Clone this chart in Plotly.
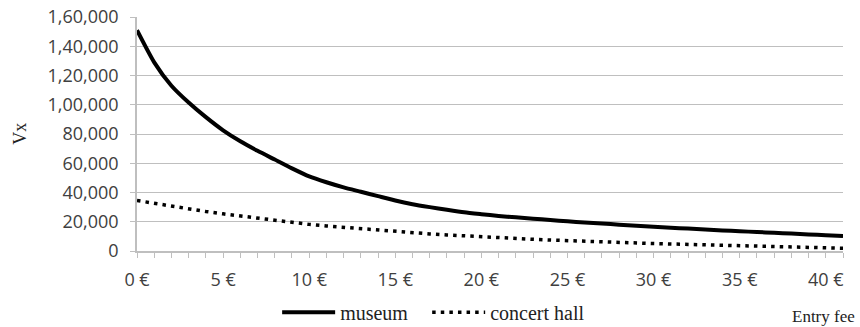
import plotly.graph_objects as go

# ---- data ----
entry_fee = list(range(0, 42))  # euros
museum = [151000, 129000, 113000, 101500, 91500, 82500, 75000, 68500, 62500, 56500,
          51000, 47000, 43500, 40500, 37500, 34500, 32000, 30000, 28200, 26500,
          25200, 24000, 23000, 22100, 21200, 20300, 19500, 18800, 18000, 17200,
          16500, 15900, 15300, 14700, 14100, 13500, 13000, 12400, 11900, 11300,
          10800, 10300]
concert_hall = [34500, 32500, 30500, 28700, 27000, 25400, 23900, 22400, 21000, 19700,
                18200, 17100, 16100, 15100, 14200, 13300, 12500, 11700, 11000, 10300,
                9700, 9100, 8500, 8000, 7500, 7000, 6600, 6200, 5800, 5400,
                5100, 4800, 4500, 4200, 3900, 3600, 3300, 3000, 2700, 2400,
                2100, 1900]
series_names = ["museum", "concert hall"]

x_tick_vals = list(range(0, 42))
x_tick_text = [f"{v} €" if v % 5 == 0 else "" for v in x_tick_vals]
y_tick_vals = [0, 20000, 40000, 60000, 80000, 100000, 120000, 140000, 160000]
y_tick_text = ["0", "20,000", "40,000", "60,000", "80,000",
               "1,00,000", "1,20,000", "1,40,000", "1,60,000"]

fig = go.Figure()
fig.add_trace(go.Scatter(x=entry_fee, y=museum, mode="lines", name=series_names[0],
                         legend="legend",
                         line=dict(color="#000000", width=4, shape="spline", smoothing=0.6)))
fig.add_trace(go.Scatter(x=entry_fee, y=concert_hall, mode="lines", name=series_names[1],
                         legend="legend2",
                         line=dict(color="#000000", width=3.5, dash="3.5px,5.1px")))

grid = "#bfbfbf"
tick_font = dict(family="Open Sans", size=18, color="#404040")
serif = "Liberation Serif"
legend_style = dict(orientation="h", y=-0.262, xanchor="left", yanchor="middle",
                    font=dict(family=serif, size=20, color="#222222"),
                    itemwidth=53, bgcolor="rgba(0,0,0,0)")

fig.update_layout(
    width=860, height=327,
    margin=dict(l=137, r=17, t=17, b=76, autoexpand=False),
    paper_bgcolor="white", plot_bgcolor="white",
    showlegend=True,
    legend=dict(x=0.1985, **legend_style),
    legend2=dict(x=0.411, **legend_style),
    annotations=[
        dict(text="Entry fee", xref="paper", yref="paper",
             x=1.02, y=-0.278, xanchor="right", yanchor="middle", showarrow=False,
             font=dict(family=serif, size=17, color="#222222")),
        dict(text="Vx", xref="paper", yref="paper", textangle=-90,
             x=-0.166, y=0.5, xanchor="center", yanchor="middle", showarrow=False,
             font=dict(family=serif, size=18, color="#222222")),
    ],
)
fig.update_xaxes(
    range=[0, 41], tickmode="array", tickvals=x_tick_vals, ticktext=x_tick_text,
    ticks="outside", ticklen=5, tickcolor=grid, tickwidth=1,
    showline=True, linecolor=grid, linewidth=1.5,
    showgrid=False, zeroline=False, tickfont=tick_font, ticklabelstandoff=7,
)
fig.update_yaxes(
    range=[0, 160000], tickmode="array", tickvals=y_tick_vals, ticktext=y_tick_text,
    ticks="outside", ticklen=5, tickcolor=grid, tickwidth=1,
    showline=True, linecolor=grid, linewidth=1.5,
    showgrid=True, gridcolor=grid, gridwidth=1.3, zeroline=False,
    tickfont=tick_font, ticklabelstandoff=8,
)

fig.write_html("out.html", config={"displayModeBar": False},
               post_script="document.body.style.margin='0';")
